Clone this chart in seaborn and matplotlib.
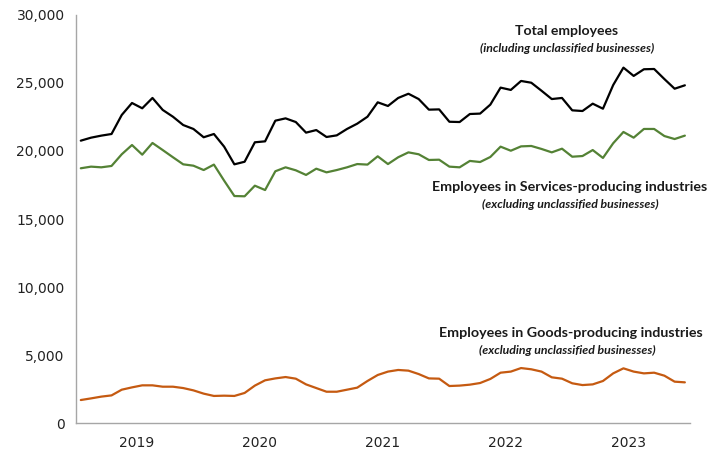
import pandas as pd
import matplotlib
import matplotlib.pyplot as plt
import seaborn as sns
from matplotlib.ticker import FuncFormatter, FixedLocator

matplotlib.use('Agg')

# Monthly data, Jan 2019 - Dec 2023
months = pd.date_range("2019-01-01", "2023-12-01", freq="MS").strftime("%Y-%m").tolist()
years = ["2019", "2020", "2021", "2022", "2023"]

total = [20760, 20980, 21130, 21250, 22650, 23530, 23140, 23900, 23020, 22520,
         21910, 21620, 21010, 21250, 20320, 19020, 19210, 20640, 20710, 22230,
         22400, 22130, 21350, 21540, 21030, 21150, 21620, 22010, 22520, 23580,
         23310, 23900, 24210, 23820, 23040, 23060, 22150, 22130, 22720, 22750,
         23410, 24660, 24490, 25150, 25020, 24430, 23820, 23900, 22990, 22940,
         23480, 23110, 24850, 26130, 25520, 26010, 26030, 25290, 24580, 24830]

services = [18730, 18850, 18800, 18900, 19760, 20440, 19730, 20590, 20070, 19540,
            19020, 18920, 18600, 19000, 17820, 16690, 16670, 17450, 17130, 18510,
            18800, 18580, 18240, 18700, 18430, 18600, 18800, 19040, 19000, 19610,
            19040, 19540, 19900, 19760, 19340, 19360, 18850, 18800, 19270, 19190,
            19560, 20320, 20020, 20340, 20370, 20150, 19900, 20170, 19580, 19630,
            20070, 19490, 20570, 21400, 20980, 21620, 21620, 21100, 20880, 21130]

goods = [1690, 1810, 1940, 2030, 2450, 2620, 2770, 2770, 2670, 2670,
         2570, 2400, 2160, 1990, 2010, 1990, 2210, 2750, 3140, 3280,
         3380, 3260, 2840, 2570, 2300, 2300, 2450, 2600, 3090, 3530,
         3780, 3900, 3850, 3600, 3280, 3260, 2720, 2750, 2820, 2940,
         3240, 3700, 3780, 4040, 3950, 3780, 3360, 3260, 2920, 2790,
         2840, 3090, 3650, 4020, 3780, 3650, 3700, 3480, 3040, 2990]

df = pd.DataFrame({"Month": months, "Total": total,
                   "Services": services, "Goods": goods})
df["pos"] = range(len(df))

sns.set_style("white")
plt.rcParams['font.family'] = ['DejaVu Sans']

fig = plt.figure(figsize=(7.1, 4.53), dpi=100)
ax = fig.add_axes([0.1066, 0.0662, 0.8652, 0.9007])

sns.lineplot(data=df, x="pos", y="Total", color="#000000", linewidth=1.6, ax=ax)
sns.lineplot(data=df, x="pos", y="Services", color="#548235", linewidth=1.6, ax=ax)
sns.lineplot(data=df, x="pos", y="Goods", color="#C55A11", linewidth=1.6, ax=ax)

ax.set_xlim(-0.5, len(df) - 0.5)
ax.set_ylim(0, 30000)
ax.set_yticks(range(0, 30001, 5000))
ax.yaxis.set_major_formatter(FuncFormatter(lambda v, p: f"{int(v):,}"))

# year boundaries as tick marks, year names centred in between
ax.xaxis.set_major_locator(FixedLocator([-0.5 + 12 * k for k in range(6)]))
ax.xaxis.set_minor_locator(FixedLocator([5.5 + 12 * k for k in range(5)]))
ax.set_xticklabels([""] * 6)
ax.set_xticklabels(years, minor=True)
ax.tick_params(axis="x", which="major", length=5, color="#A6A6A6", width=1, direction="out")
ax.tick_params(axis="x", which="minor", length=0, labelsize=10, colors="#222222", pad=9)
ax.tick_params(axis="y", length=4, color="#A6A6A6", width=1, labelsize=10,
               labelcolor="#222222", direction="out", pad=4)
ax.set_xlabel("")
ax.set_ylabel("")

sns.despine(ax=ax)
for side in ["left", "bottom"]:
    ax.spines[side].set_color("#A6A6A6")
    ax.spines[side].set_linewidth(1)

lab = dict(ha="center", va="center", transform=fig.transFigure,
           family=["Lato", "DejaVu Sans"], color="#1a1a1a")
fig.text(567 / 710, 1 - 31 / 453, "Total employees", fontsize=10.1, fontweight="bold", **lab)
fig.text(567 / 710, 1 - 48 / 453, "(including unclassified businesses)", fontsize=8.8,
         fontweight="bold", style="italic", **lab)
fig.text(570 / 710, 1 - 187 / 453, "Employees in Services-producing industries", fontsize=10.3,
         fontweight="bold", **lab)
fig.text(570 / 710, 1 - 204 / 453, "(excluding unclassified businesses)", fontsize=8.8,
         fontweight="bold", style="italic", **lab)
fig.text(571 / 710, 1 - 333 / 453, "Employees in Goods-producing industries", fontsize=10.3,
         fontweight="bold", **lab)
fig.text(567 / 710, 1 - 350 / 453, "(excluding unclassified businesses)", fontsize=8.8,
         fontweight="bold", style="italic", **lab)

plt.savefig("out.png", dpi=100)
plt.close()
